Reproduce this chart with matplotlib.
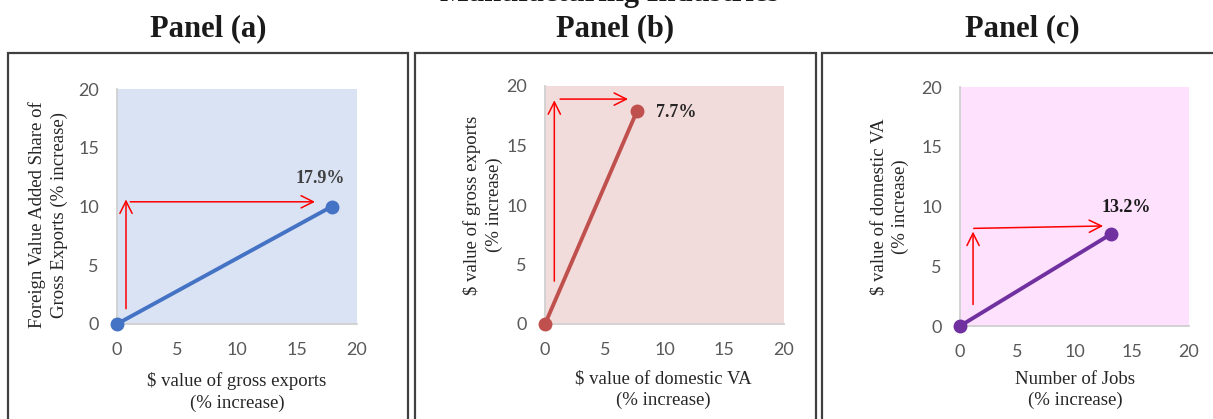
import matplotlib
matplotlib.use("Agg")
import matplotlib.pyplot as plt
from matplotlib.patches import Rectangle


# Data
panel_titles = ["Panel (a)", "Panel (b)", "Panel (c)"]
x_start = [0, 0, 0]
y_start = [0, 0, 0]
x_end = [17.9, 7.7, 13.2]
y_end = [10.0, 17.9, 7.7]
point_labels = ["17.9%", "7.7%", "13.2%"]
x_labels = [
    "$ value of gross exports\n(% increase)",
    "$ value of domestic VA\n(% increase)",
    "Number of Jobs\n(% increase)",
]
y_labels = [
    "Foreign Value Added Share of\nGross Exports (% increase)",
    "$ value of gross exports\n(% increase)",
    "$ value of domestic VA\n(% increase)",
]
ticks = [0, 5, 10, 15, 20]
# red guide arrows (start, end) in data units: vertical then horizontal
v_arrows = [((0.75, 1.3), (0.75, 10.6)), ((0.78, 3.6), (0.78, 18.8)), ((1.14, 1.8), (1.14, 7.9))]
h_arrows = [((1.1, 10.4), (16.5, 10.4)), ((1.26, 18.9), (6.95, 18.9)), ((1.2, 8.17), (12.5, 8.37))]

# Styles
BG = ["#DAE3F3", "#F2DCDB", "#FDE1FD"]
LINE = ["#4472C4", "#C0504D", "#7030A0"]
LABEL_COLOR = ["#404040", "#262626", "#1a1a1a"]
LABEL_OFFSET = [((-8, 20), "center"), ((14, -1), "left"), ((11, 19), "center")]
AX_POS = [
    (117 / 1213, 1 - 324 / 419, 240 / 1213, 235 / 419),
    (545 / 1213, 1 - 324 / 419, 239 / 1213, 238 / 419),
    (960 / 1213, 1 - 326 / 419, 229 / 1213, 239 / 419),
]
BOX_X = [(8, 408), (415, 816), (822, 1230)]
TITLE_X = [208, 615, 1022]
YLAB = [(48, 215), (483, 205), (890, 207)]
XLAB = [(237, 392), (663, 390), (1075, 390)]
SERIF = "Liberation Serif"
TICKFONT = "Lato"

W, H = 1213, 419
fig = plt.figure(figsize=(W / 100, H / 100), dpi=100)

fig.text(610 / W, 1 - 1 / H, "Manufacturing Industries", ha="center", va="baseline",
         fontsize=22, fontweight="bold", family=SERIF, color="#1a1a1a")

for i in range(3):
    # panel frame
    x0, x1 = BOX_X[i]
    fig.patches.append(Rectangle((x0 / W, -0.1), (x1 - x0) / W, 1.1 - 53 / H,
                                 transform=fig.transFigure, fill=False,
                                 edgecolor="#404040", lw=1.6))
    fig.text(TITLE_X[i] / W, 1 - 29 / H, panel_titles[i], ha="center", va="center",
             fontsize=22, fontweight="bold", family=SERIF, color="#1a1a1a")

    ax = fig.add_axes(AX_POS[i])
    ax.set_facecolor(BG[i])
    ax.plot([x_start[i], x_end[i]], [y_start[i], y_end[i]], color=LINE[i], lw=2.8,
            marker="o", markersize=9, clip_on=False, zorder=5)
    ax.set_xlim(0, 20)
    ax.set_ylim(0, 20)
    ax.set_xticks(ticks)
    ax.set_yticks(ticks)
    ax.tick_params(length=0, labelsize=13, labelcolor="#595959", pad=13)
    for lab in ax.get_xticklabels() + ax.get_yticklabels():
        lab.set_family(TICKFONT)
    for s in ["top", "right"]:
        ax.spines[s].set_visible(False)
    for s in ["left", "bottom"]:
        ax.spines[s].set_color("#D0D0D0")
        ax.spines[s].set_linewidth(1.3)

    off, ha = LABEL_OFFSET[i]
    ax.annotate(point_labels[i], (x_end[i], y_end[i]), xytext=off,
                textcoords="offset points", ha=ha, va="center", fontsize=13,
                fontweight="bold", family=SERIF, color=LABEL_COLOR[i])

    for a in (v_arrows[i], h_arrows[i]):
        ax.annotate("", xy=a[1], xytext=a[0],
                    arrowprops=dict(arrowstyle="->", color="red", lw=1.1,
                                    mutation_scale=22, shrinkA=0, shrinkB=0))

    fig.text(YLAB[i][0] / W, 1 - YLAB[i][1] / H, y_labels[i], rotation=90,
             ha="center", va="center", fontsize=13.5, family=SERIF,
             color="#262626", linespacing=1.3)
    fig.text(XLAB[i][0] / W, 1 - XLAB[i][1] / H, x_labels[i],
             ha="center", va="center", fontsize=13.5, family=SERIF,
             color="#262626", linespacing=1.3)

fig.savefig("out.png", dpi=100)
